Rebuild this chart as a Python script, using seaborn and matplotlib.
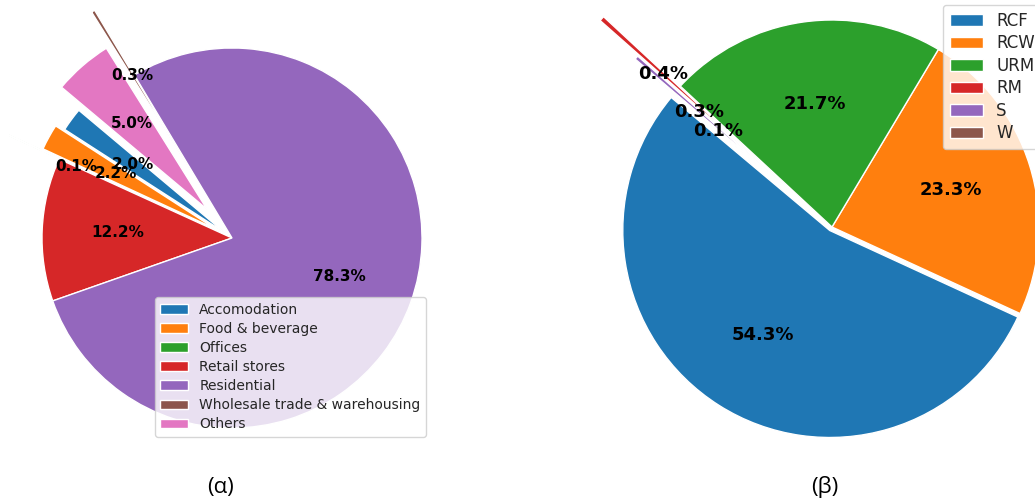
import matplotlib
matplotlib.use("Agg")
import matplotlib.pyplot as plt
import seaborn as sns

# Building use shares (left) and structural typology shares (right)
use_labels = ["Accomodation", "Food & beverage", "Offices", "Retail stores",
              "Residential", "Wholesale trade & warehousing", "Others"]
use_shares = [2.0, 2.2, 0.1, 12.2, 78.3, 0.3, 5.0]
use_explode = [0.05, 0.1, 0.3, 0.0, 0.0, 0.4, 0.2]

type_labels = ["RCF", "RCW", "URM", "RM", "S", "W"]
type_shares = [54.3, 23.3, 21.7, 0.4, 0.3, 0.1]
type_explode = [0.02, 0.0, 0.0, 0.5, 0.25, 0.12]

captions = ["(α)", "(β)"]

sns.set_style("white")
plt.rcParams["font.family"] = ["DejaVu Sans"]
palette = sns.color_palette("tab10")

W, H, DPI = 1035, 501, 100
fig = plt.figure(figsize=(W / DPI, H / DPI), dpi=DPI)


def pie_axes(cx, cy, r, box):
    """Axes whose data unit equals r pixels, with the pie centre at (cx, cy) px."""
    left, top, right, bottom = box
    ax = fig.add_axes([left / W, 1 - bottom / H, (right - left) / W, (bottom - top) / H])
    return ax, ((left - cx) / r, (right - cx) / r), ((cy - bottom) / r, (cy - top) / r)


def draw_pie(ax, xlim, ylim, shares, explode, fontsize):
    total = sum(shares)
    wedges, _, _ = ax.pie(
        shares, explode=explode, colors=palette[:len(shares)],
        startangle=140, counterclock=True,
        # label each wedge with its own share value
        autopct=lambda p: f"{p * total / 100:.1f}%", pctdistance=0.6,
        wedgeprops=dict(edgecolor="white", linewidth=1),
        textprops=dict(fontsize=fontsize, fontweight="bold", color="black"),
    )
    ax.set_aspect("auto")
    ax.set_xlim(*xlim)
    ax.set_ylim(*ylim)
    ax.axis("off")
    return wedges


# Left: building use
ax1, xl1, yl1 = pie_axes(232, 238, 190, (0, 0, 470, 460))
w1 = draw_pie(ax1, xl1, yl1, use_shares, use_explode, 11)
ax1.legend(w1, use_labels, loc="lower right", fontsize=10, labelspacing=0.37,
           bbox_to_anchor=(426 / W, 1 - 437 / H), bbox_transform=fig.transFigure,
           borderaxespad=0)

# Right: structural typology
ax2, xl2, yl2 = pie_axes(832, 227, 207, (520, 0, 1035, 460))
w2 = draw_pie(ax2, xl2, yl2, type_shares, type_explode, 13)
ax2.legend(w2, type_labels, loc="upper left", fontsize=12, labelspacing=0.27,
           bbox_to_anchor=(943 / W, 1 - 5 / H), bbox_transform=fig.transFigure,
           borderaxespad=0)

for label, x in zip(captions, [221, 825]):
    fig.text(x / W, 1 - 487 / H, label, ha="center", va="center", fontsize=16,
             family=["Open Sans", "DejaVu Sans"], color="black")

fig.savefig("out.png", dpi=DPI)
